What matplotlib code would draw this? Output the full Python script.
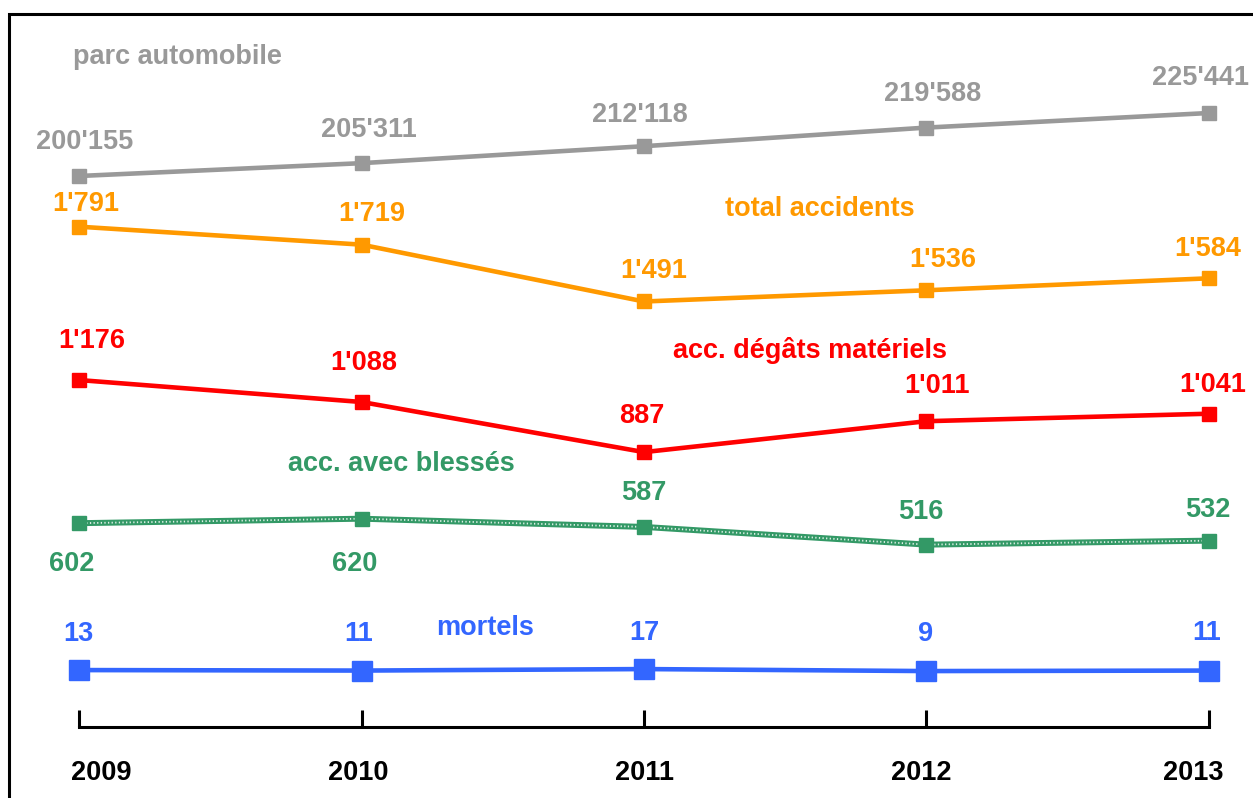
import numpy as np
import matplotlib.pyplot as plt
from matplotlib.patches import Rectangle

# donnees
annees = [2009, 2010, 2011, 2012, 2013]
parc = [200155, 205311, 212118, 219588, 225441]
total = [1791, 1719, 1491, 1536, 1584]
degats = [1176, 1088, 887, 1011, 1041]
blesses = [602, 620, 587, 516, 532]
mortels = [13, 11, 17, 9, 11]

def fmt(v):
    # separateur des milliers: apostrophe
    return "{:,}".format(v).replace(",", "'")

W, H = 1253, 798
plt.rcParams['font.family'] = ['Liberation Sans', 'DejaVu Sans']
plt.rcParams['font.weight'] = 'bold'

fig = plt.figure(figsize=(W / 100, H / 100), dpi=100)
ax = fig.add_axes([0, 0, 1, 1])
ax.set_facecolor('none')
ax.set_xlim(2008.72, 2013.156)
ax.set_ylim(-500, 2700)
ax2 = ax.twinx()
ax2.set_ylim(-49500, 270800)
ax2.axis('off')

gris = '#999999'
orange = '#ff9900'
rouge = '#ff0000'
vert = '#339966'
bleu = '#3366ff'
fs = 19.5

ax2.plot(annees, parc, color=gris, lw=3.3, marker='s', ms=10, zorder=3)
ax.plot(annees, total, color=orange, lw=3.3, marker='s', ms=10, zorder=3)
ax.plot(annees, degats, color=rouge, lw=3.3, marker='s', ms=10, zorder=3)
# ligne "texturee" pour les blesses
ax.plot(annees, blesses, color=vert, lw=4.3, zorder=3)
ax.plot(annees, blesses, color='white', lw=1.3, ls=(0, (0.7, 1.3)), alpha=0.85, zorder=3)
ax.plot(annees, blesses, color=vert, lw=0, marker='s', ms=10.5, zorder=4)
ax.plot(annees, mortels, color=bleu, lw=3.3, marker='s', ms=14.5, zorder=3)

# etiquettes des valeurs (decalages en pixels)
dec_parc = [(6, -34), (7, -33), (-4, -31), (6, -34), (-8, -35)]
dec_total = [(7, -23), (10, -31), (10, -30), (16, -30), (-1, -29)]
dec_degats = [(13, -39), (2, -39), (-2, -36), (11, -35), (4, -29)]
dec_blesses = [(-7, 41), (-7, 45), (0, -34), (-6, -33), (-1, -31)]
dec_mortels = [(-1, -36), (-3, -37), (0, -36), (-1, -37), (-2, -38)]

def etiquettes(a, vals, decs, col):
    for x, v, (dx, dy) in zip(annees, vals, decs):
        a.annotate(fmt(v), (x, v), xytext=(dx * 0.72, -dy * 0.72),
                   textcoords='offset points', ha='center', va='center',
                   color=col, fontsize=fs, fontweight='bold')

etiquettes(ax2, parc, dec_parc, gris)
etiquettes(ax, total, dec_total, orange)
etiquettes(ax, degats, dec_degats, rouge)
etiquettes(ax, blesses, dec_blesses, vert)
etiquettes(ax, mortels, dec_mortels, bleu)

# noms des series
fig.text(73 / W, 1 - 57 / H, 'parc automobile', color=gris, fontsize=fs, ha='left', va='center')
fig.text(820 / W, 1 - 209 / H, 'total accidents', color=orange, fontsize=fs, ha='center', va='center')
fig.text(810 / W, 1 - 351 / H, 'acc. dégâts matériels', color=rouge, fontsize=fs, ha='center', va='center')
fig.text(401 / W, 1 - 464 / H, 'acc. avec blessés', color=vert, fontsize=fs, ha='center', va='center')
fig.text(485 / W, 1 - 628 / H, 'mortels', color=bleu, fontsize=fs, ha='center', va='center')

# axe des annees
for s in ['top', 'left', 'right']:
    ax.spines[s].set_visible(False)
ax.spines['bottom'].set_position(('axes', 1 - 727 / H))
ax.spines['bottom'].set_bounds(2009, 2013)
ax.spines['bottom'].set_linewidth(2.2)
ax.set_yticks([])
ax.set_xticks(annees)
ax.tick_params(axis='x', direction='in', length=12, width=2.2, labelbottom=False)
dec_annees = [22, -3, 0, -5, -16]
for x, dx in zip(annees, dec_annees):
    ax.annotate(str(x), (x, 0), xycoords=('data', 'figure fraction'),
                xytext=(dx * 0.72, (H - 773) * 0.72), textcoords='offset points',
                ha='center', va='center', fontsize=fs, fontweight='bold', color='black')

# cadre
fig.patches.append(Rectangle((9 / W, -0.1), 1.2, 1.1 - 14 / H, transform=fig.transFigure,
                             fill=False, edgecolor='black', lw=2.2))

fig.savefig('out.png', dpi=100)
